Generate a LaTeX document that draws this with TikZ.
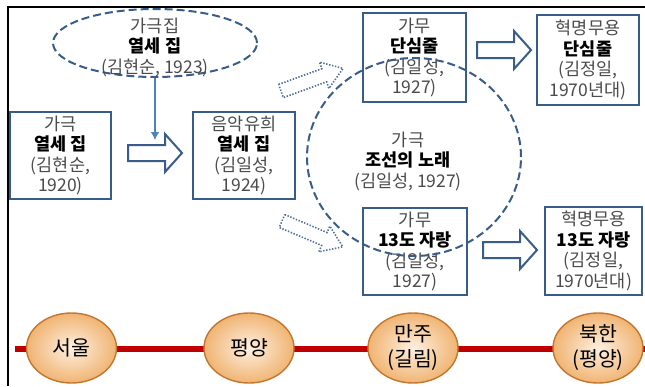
\documentclass[tikz,border=0pt]{standalone}
\usepackage{fontspec}
\setmainfont{Noto Sans CJK KR}
\usetikzlibrary{shapes.geometric,arrows.meta}
\definecolor{boxc}{RGB}{56,93,138}
\definecolor{tg}{RGB}{75,75,75}
\definecolor{arrblue}{RGB}{79,129,189}
\definecolor{dotc}{RGB}{80,110,160}
\definecolor{redline}{RGB}{192,0,0}
\definecolor{ovalin}{RGB}{254,240,224}
\definecolor{ovalout}{RGB}{240,180,115}
\definecolor{ovalbd}{RGB}{196,118,44}
\newcommand\grtx[1]{\textcolor{tg}{#1}}
\tikzset{
  txt/.style={align=center, font=\fontsize{17.5}{20.5}\selectfont, inner sep=0pt},
  stepbox/.style={draw=boxc, line width=2pt, fill=white, inner sep=0pt, align=center,
    font=\fontsize{17.5}{20.5}\selectfont},
  dashell/.style={ellipse, draw=boxc, line width=2pt, dash pattern=on 8pt off 4pt, inner sep=0pt},
  oval/.style={ellipse, draw=ovalbd, line width=1.4pt, inner color=ovalin, outer color=ovalout,
    minimum width=90pt, minimum height=70pt, inner sep=0pt, align=center,
    font=\fontsize{20.5}{25}\selectfont},
  blockarrow/.style={draw=boxc, line width=2pt, fill=white, line join=miter},
  dotarrow/.style={draw=dotc, line width=1.6pt, dash pattern=on 1.4pt off 1.6pt, line join=miter},
  barrow/.pic={\draw[blockarrow] (0,-8) -- (37,-8) -- (37,-19) -- (54,0) -- (37,19) -- (37,8) -- (0,8) -- cycle;},
  dbarrow/.pic={\draw[dotarrow] (0,-7) -- (46,-7) -- (46,-14) -- (66,0) -- (46,14) -- (46,7) -- (0,7) -- cycle;}
}
\begin{document}
\begin{tikzpicture}[x=1pt,y=-1pt]
\useasboundingbox (0,0) rectangle (645,386);
% frame
\draw[line width=1.6pt, black] (8,386) -- (8,7) -- (645,7);

% timeline
\coordinate (tl0) at (15,349);
\coordinate (tl1) at (645,349);
\draw[redline, line width=6.5pt] (tl0) -- (tl1);
\node[oval] (seoul) at (71.5,348) {서울};
\node[oval] (pyongyang) at (249,348) {평양};
\node[oval] (manju) at (413,348) {만주\\(길림)};
\node[oval] (bukhan) at (598,348) {북한\\(평양)};

% top ellipse
\node[dashell, minimum width=204pt, minimum height=68pt] (gagukjip) at (155,43) {};
\node[txt] (gagukjiptext) at (155,47) {\grtx{가극집}\\\textbf{열세 집}\\\grtx{(김현순, 1923)}};

% boxes
\node[stepbox, minimum width=101pt, minimum height=87pt] (A) at (60.5,155.5)
  {\grtx{가극}\\\textbf{열세 집}\\\grtx{(김현순,}\\\grtx{1920)}};
\node[stepbox, minimum width=102pt, minimum height=87pt] (B) at (244,155.5)
  {\grtx{음악유희}\\\textbf{열세 집}\\\grtx{(김일성,}\\\grtx{1924)}};
\node[stepbox, minimum width=103pt, minimum height=89pt] (C) at (414.5,57.5)
  {\grtx{가무}\\\textbf{단심줄}\\\grtx{(김일성,}\\\grtx{1927)}};
\node[stepbox, minimum width=102pt, minimum height=90pt] (D) at (588,60)
  {\grtx{혁명무용}\\\textbf{단심줄}\\\grtx{(김정일,}\\\grtx{1970년대)}};
\node[stepbox, minimum width=104pt, minimum height=87pt] (E) at (415,251.5)
  {\grtx{가무}\\\textbf{13도 자랑}\\\grtx{(김일성,}\\\grtx{1927)}};
\node[stepbox, minimum width=97pt, minimum height=88pt] (F) at (593.5,251)
  {\grtx{혁명무용}\\\textbf{13도 자랑}\\\grtx{(김정일,}\\\grtx{1970년대)}};

% block arrows
\pic at (128,153) {barrow};
\pic at (477,50) {barrow};
\pic at (483,250) {barrow};

% dotted block arrows
\pic[rotate=20] at (281,91) {dbarrow};
\pic[rotate=-23] at (282,221) {dbarrow};

% blue arrow
\coordinate (bluetip) at (155,140);
\draw[arrblue, line width=2pt, -{Latex[length=8pt,width=9pt]}] (gagukjip.south) -- (bluetip);

% big dashed circle
\node[dashell, minimum width=214pt, minimum height=198pt] (joseon) at (414,157) {};
\node[txt] (joseontext) at (408,161) {\grtx{가극}\\\textbf{조선의 노래}\\\grtx{(김일성, 1927)}};
\end{tikzpicture}
\end{document}
